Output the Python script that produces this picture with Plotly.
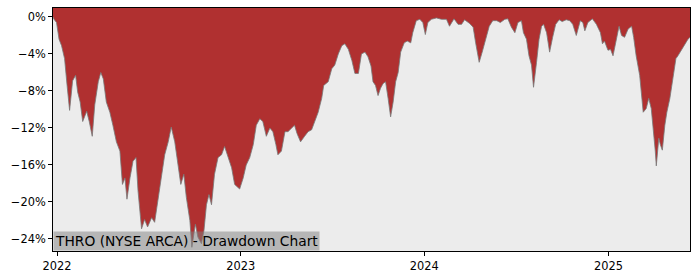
import plotly.graph_objects as go

dates = [
    "2021-12-24", "2021-12-26", "2021-12-31", "2022-01-05", "2022-01-10", "2022-01-16",
    "2022-01-21", "2022-01-26", "2022-02-01", "2022-02-07", "2022-02-11", "2022-02-16",
    "2022-02-21", "2022-03-01", "2022-03-06", "2022-03-12", "2022-03-17", "2022-03-24",
    "2022-03-29", "2022-04-03", "2022-04-09", "2022-04-16", "2022-04-22", "2022-04-29",
    "2022-05-06", "2022-05-11", "2022-05-16", "2022-05-20", "2022-05-26", "2022-06-01",
    "2022-06-07", "2022-06-11", "2022-06-18", "2022-06-24", "2022-06-30", "2022-07-08",
    "2022-07-14", "2022-07-21", "2022-07-28", "2022-08-03", "2022-08-10", "2022-08-16",
    "2022-08-23", "2022-08-30", "2022-09-04", "2022-09-10", "2022-09-15", "2022-09-22",
    "2022-09-26", "2022-10-03", "2022-10-08", "2022-10-15", "2022-10-20", "2022-10-25",
    "2022-10-30", "2022-11-04", "2022-11-10", "2022-11-17", "2022-11-24", "2022-11-30",
    "2022-12-07", "2022-12-14", "2022-12-20", "2022-12-30", "2023-01-06", "2023-01-12",
    "2023-01-19", "2023-01-26", "2023-02-01", "2023-02-08", "2023-02-14", "2023-02-21",
    "2023-02-28", "2023-03-06", "2023-03-12", "2023-03-16", "2023-03-23", "2023-03-30",
    "2023-04-05", "2023-04-12", "2023-04-18", "2023-04-23", "2023-04-30", "2023-05-08",
    "2023-05-15", "2023-05-22", "2023-05-28", "2023-06-04", "2023-06-11", "2023-06-15",
    "2023-06-24", "2023-07-01", "2023-07-07", "2023-07-14", "2023-07-21", "2023-07-27",
    "2023-08-03", "2023-08-10", "2023-08-16", "2023-08-23", "2023-08-29", "2023-09-05",
    "2023-09-11", "2023-09-17", "2023-09-21", "2023-09-26", "2023-10-01", "2023-10-06",
    "2023-10-11", "2023-10-16", "2023-10-21", "2023-10-26", "2023-10-31", "2023-11-05",
    "2023-11-10", "2023-11-15", "2023-11-22", "2023-11-28", "2023-12-05", "2023-12-09",
    "2023-12-16", "2023-12-23", "2023-12-29", "2024-01-03", "2024-01-08", "2024-01-15",
    "2024-01-25", "2024-02-04", "2024-02-14", "2024-02-20", "2024-02-29", "2024-03-08",
    "2024-03-15", "2024-03-21", "2024-03-31", "2024-04-07", "2024-04-12", "2024-04-19",
    "2024-04-25", "2024-05-02", "2024-05-09", "2024-05-16", "2024-05-24", "2024-05-31",
    "2024-06-09", "2024-06-15", "2024-06-22", "2024-06-29", "2024-07-05", "2024-07-12",
    "2024-07-16", "2024-07-22", "2024-07-27", "2024-08-01", "2024-08-05", "2024-08-11",
    "2024-08-16", "2024-08-21", "2024-08-25", "2024-08-31", "2024-09-06", "2024-09-12",
    "2024-09-18", "2024-09-25", "2024-10-01", "2024-10-09", "2024-10-16", "2024-10-22",
    "2024-10-29", "2024-11-03", "2024-11-06", "2024-11-11", "2024-11-15", "2024-11-21",
    "2024-11-30", "2024-12-08", "2024-12-16", "2024-12-20", "2024-12-24", "2024-12-31",
    "2025-01-05", "2025-01-10", "2025-01-17", "2025-01-22", "2025-01-27", "2025-02-02",
    "2025-02-09", "2025-02-16", "2025-02-20", "2025-02-25", "2025-03-04", "2025-03-11",
    "2025-03-17", "2025-03-22", "2025-03-27", "2025-03-31", "2025-04-04", "2025-04-06",
    "2025-04-11", "2025-04-14", "2025-04-18", "2025-04-23", "2025-04-27", "2025-05-03",
    "2025-05-08", "2025-05-15", "2025-05-19", "2025-05-26", "2025-06-02", "2025-06-08",
    "2025-06-12",
]

drawdown_pct = [
    0.0, -0.25, -0.6, -2.4, -3.1, -4.5,
    -7.4, -10.1, -6.9, -6.3, -8.1, -9.2,
    -11.3, -10.2, -11.3, -12.9, -9.5, -7.0,
    -6.0, -6.7, -9.2, -10.3, -11.7, -13.5,
    -14.5, -18.1, -17.4, -19.7, -17.4, -15.6,
    -15.2, -18.8, -22.9, -21.9, -22.7, -21.7,
    -22.2, -19.7, -17.4, -14.9, -13.5, -11.9,
    -13.5, -16.0, -18.1, -17.0, -19.5, -22.0,
    -24.9, -22.4, -23.8, -24.5, -23.1, -20.3,
    -19.2, -20.3, -17.0, -15.2, -14.9, -14.0,
    -15.2, -16.3, -18.1, -18.6, -17.4, -16.0,
    -15.2, -13.8, -11.7, -11.0, -11.3, -12.9,
    -12.0, -12.4, -13.8, -14.9, -14.5, -12.4,
    -12.4, -12.0, -11.7, -12.6, -13.5, -12.9,
    -12.4, -12.2, -11.3, -10.3, -8.8, -7.4,
    -7.0, -5.6, -5.2, -4.0, -3.1, -2.9,
    -3.5, -4.7, -6.1, -6.1, -4.0, -3.8,
    -4.3, -5.3, -7.0, -7.4, -8.5, -7.7,
    -7.2, -7.0, -8.8, -10.8, -9.2, -7.0,
    -6.0, -3.8, -2.8, -2.6, -2.8, -1.7,
    -0.4, -0.25, -0.6, -1.9, -0.6, -0.25,
    -0.1, -0.25, -0.25, -1.0, -0.2, -0.8,
    -0.8, -0.3, -0.7, -1.1, -2.8, -4.9,
    -3.8, -2.4, -1.0, -0.4, -0.4, -0.6,
    -0.25, -0.2, -1.1, -1.7, -0.6, -0.4,
    -1.7, -2.4, -4.2, -5.2, -7.6, -4.9,
    -2.4, -1.0, -0.8, -1.7, -3.8, -2.2,
    -0.8, -0.3, -0.5, -0.3, -0.4, -0.8,
    -2.0, -1.0, -0.4, -0.6, -1.5, -0.6,
    -0.2, -0.8, -1.7, -2.9, -2.6, -3.6,
    -3.5, -4.2, -2.4, -1.0, -2.0, -2.2,
    -1.3, -1.0, -2.2, -4.2, -6.3, -10.3,
    -9.9, -8.8, -9.9, -12.0, -14.5, -16.1,
    -13.1, -13.8, -14.4, -11.7, -10.3, -8.8,
    -7.0, -4.5, -4.2, -3.6, -2.9, -2.4,
    -2.2,
]

y_top = 0.97
y_bottom = -25.3
y_tick_vals = [0, -4, -8, -12, -16, -20, -24]
y_tick_text = ["0%", "\u22124%", "\u22128%", "\u221212%", "\u221216%", "\u221220%", "\u221224%"]
x_tick_vals = ["2022-01-01", "2023-01-01", "2024-01-01", "2025-01-01"]
x_tick_text = ["2022", "2023", "2024", "2025"]
title_text = "THRO (NYSE ARCA) - Drawdown Chart"

fig = go.Figure()
# top boundary of the filled area (upper edge of the plot)
fig.add_trace(go.Scatter(
    x=[dates[0], dates[-1]], y=[y_top, y_top], mode="lines",
    line=dict(width=0, color="rgba(0,0,0,0)"), hoverinfo="skip", showlegend=False,
))
fig.add_trace(go.Scatter(
    x=dates, y=drawdown_pct, mode="lines", fill="tonexty",
    fillcolor="#B03030", line=dict(color="rgba(120,120,120,0.8)", width=1),
    hoverinfo="skip", showlegend=False,
))

font = dict(family="DejaVu Sans", size=11.4, color="#000000")
fig.update_layout(
    width=700, height=280,
    margin=dict(l=53, r=10, t=7, b=28),
    paper_bgcolor="#FFFFFF", plot_bgcolor="#ECECEC",
    font=font, showlegend=False,
)
fig.update_xaxes(
    type="date", range=[dates[0], dates[-1]],
    tickvals=x_tick_vals, ticktext=x_tick_text,
    showgrid=False, zeroline=False,
    showline=True, linecolor="#000000", linewidth=1, mirror=True,
    ticks="outside", ticklen=4, tickcolor="#000000",
)
fig.update_yaxes(
    range=[y_bottom, y_top],
    tickvals=y_tick_vals, ticktext=y_tick_text,
    showgrid=False, zeroline=False,
    showline=True, linecolor="#000000", linewidth=1, mirror=True,
    ticks="outside", ticklen=4, tickcolor="#000000",
)
fig.add_annotation(
    xref="paper", yref="paper", x=0, y=0, xanchor="left", yanchor="bottom",
    text=title_text, showarrow=False,
    font=dict(family="DejaVu Sans", size=13.8, color="#000000"),
    bgcolor="rgba(128,128,128,0.5)", borderpad=1,
)
fig.write_html("out.html")
